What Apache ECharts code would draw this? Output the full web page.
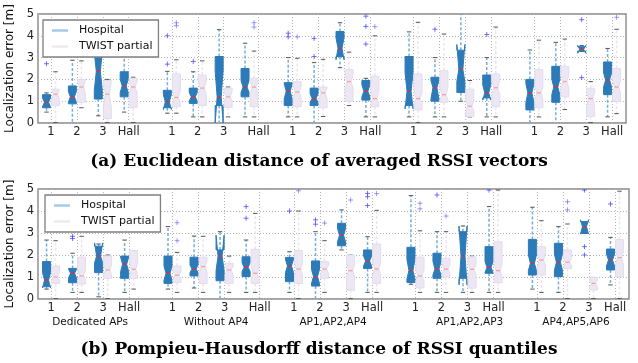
<!DOCTYPE html>
<html><head><meta charset="utf-8">
<script src="https://cdn.jsdelivr.net/npm/echarts@6/dist/echarts.min.js"></script>
<style>html,body{margin:0;padding:0;background:#fff}#c{width:638px;height:363px}</style>
</head><body><div id="c"></div>
<script>
// ---------------- data ----------------
const slotLabels = ['1', '2', '3', 'Hall'];
const groupNames = ['Dedicated APs', 'Without AP4', 'AP1,AP2,AP4', 'AP1,AP2,AP3', 'AP4,AP5,AP6'];
const titleA = '(a) Euclidean distance of averaged RSSI vectors';
const titleB = '(b) Pompieu-Hausdorff distance of RSSI quantiles';
const seriesNames = ['Hospital', 'TWIST partial'];
const yTicks = [0, 1, 2, 3, 4, 5];

// each box: [whiskerLow, q1, notchLow, median, notchHigh, q3, whiskerHigh]
const hospitalA = [
  [0.5, 0.7, 0.75, 0.95, 1.15, 1.3, 1.38], [-0.2, 0.88, 0.95, 1.2, 1.45, 1.7, 2.88], [0.33, 1.1, 1.5, 2.37, 3.25, 3.0, 4.0], [0.5, 1.2, 1.4, 1.7, 2.0, 2.35, 3.1],
  [0.45, 0.7, 0.62, 0.97, 1.3, 1.5, 2.37], [0.28, 0.9, 1.0, 1.2, 1.4, 1.6, 2.35], [-0.2, 0.8, 0.0, 1.2, 2.4, 3.05, 4.28], [0.28, 1.2, 1.4, 1.65, 1.95, 2.5, 3.66],
  [0.28, 0.8, 1.1, 1.46, 1.8, 1.85, 3.0], [-0.2, 0.8, 0.95, 1.12, 1.35, 1.6, 2.77], [2.54, 3.05, 2.9, 3.43, 3.9, 4.2, 4.6], [0.28, 1.05, 1.2, 1.46, 1.75, 1.95, 2.05],
  [0.28, 0.8, 0.65, 1.46, 2.3, 3.05, 4.18], [0.28, 1.0, 1.1, 1.62, 1.95, 2.1, 3.0], [1.0, 1.4, 1.9, 2.46, 3.6, 3.34, 5.5], [0.28, 1.15, 1.05, 1.38, 1.75, 2.2, 3.0],
  [-0.2, 0.6, 0.95, 1.38, 1.8, 2.0, 3.35], [-0.2, 0.95, 1.3, 1.65, 2.0, 2.6, 3.7], [3.28, 3.3, 3.2, 3.38, 3.56, 3.5, 3.55], [0.28, 1.3, 1.65, 1.97, 2.3, 2.8, 3.42]
];
const hospitalAFliers = [
  [2.72], [], [], [],
  [2.7, 4.0], [2.82], [], [],
  [3.95, 4.12], [3.05, 3.88], [], [3.62, 4.43, 4.9],
  [], [4.3], [], [4.06],
  [], [], [2.08, 4.74], []
];
const twistA = [
  [0.02, 0.8, 1.05, 1.32, 1.55, 1.55, 2.35], [0.7, 0.95, 1.35, 1.65, 1.95, 2.0, 2.85], [0.02, 0.2, 0.7, 1.32, 1.9, 1.95, 2.0], [0.02, 0.7, 1.35, 1.65, 1.95, 2.05, 2.1],
  [0.45, 0.75, 0.9, 1.17, 1.5, 2.25, 2.9], [0.28, 0.8, 1.3, 1.6, 1.9, 2.2, 2.85], [0.28, 0.72, 1.0, 1.2, 1.45, 1.6, 1.65], [0.28, 0.75, 1.35, 1.65, 1.95, 2.05, 3.3],
  [0.28, 0.75, 1.15, 1.42, 1.7, 1.9, 2.97], [0.3, 0.7, 1.1, 1.38, 1.6, 1.65, 2.92], [0.8, 1.0, 1.6, 1.9, 2.2, 2.45, 3.25], [0.28, 0.75, 0.9, 1.12, 1.5, 2.15, 4.0],
  [0.02, 0.6, 0.9, 1.12, 1.4, 2.25, 4.62], [0.28, 0.95, 1.05, 1.3, 1.6, 2.4, 4.08], [0.28, 0.3, 0.55, 0.77, 1.0, 1.55, 1.95], [0.28, 0.75, 1.3, 1.62, 1.95, 2.25, 4.4],
  [0.28, 0.7, 1.1, 1.38, 1.65, 2.45, 3.8], [0.62, 1.2, 1.6, 1.9, 2.2, 2.6, 3.85], [0.02, 0.3, 0.8, 1.12, 1.4, 1.6, 1.9], [0.43, 1.0, 1.35, 1.65, 1.95, 2.5, 4.3]
];
const twistAFliers = [
  [], [], [], [],
  [4.46, 4.6], [], [], [4.4, 4.6],
  [3.95], [], [], [4.42],
  [], [], [], [],
  [], [], [], [4.85]
];
const hospitalB = [
  [0.45, 0.56, 0.5, 0.86, 1.2, 1.7, 2.68], [0.3, 0.74, 0.95, 1.17, 1.35, 1.39, 2.08], [0.1, 1.2, 1.65, 1.95, 2.55, 2.4, 2.5], [0.3, 0.94, 1.25, 1.58, 1.9, 1.95, 2.68],
  [0.45, 0.71, 0.85, 1.17, 1.5, 1.95, 3.29], [0.5, 1.05, 1.2, 1.36, 1.55, 1.9, 2.86], [-0.2, 0.83, 1.3, 1.95, 2.9, 2.23, 3.06], [0.3, 1.02, 1.25, 1.44, 1.65, 1.92, 2.68],
  [0.3, 0.79, 1.2, 1.5, 1.8, 1.89, 2.15], [-0.2, 0.59, 0.7, 1.02, 1.35, 1.73, 3.06], [2.23, 2.42, 2.6, 2.9, 3.2, 3.44, 4.05], [0.3, 1.39, 1.5, 1.73, 1.95, 2.23, 2.83],
  [0.67, 0.75, 0.9, 1.3, 1.8, 2.35, 4.7], [0.3, 0.94, 1.1, 1.36, 1.7, 2.08, 3.06], [0.3, 0.94, 0.64, 1.95, 3.32, 3.06, 3.32], [0.3, 1.17, 1.2, 1.44, 1.7, 2.38, 4.2],
  [0.45, 1.09, 1.3, 1.62, 2.0, 2.71, 4.17], [0.3, 1.02, 1.3, 1.67, 2.05, 2.53, 3.29], [2.98, 2.98, 2.95, 3.29, 3.6, 3.52, 3.52], [0.64, 1.32, 1.5, 1.77, 2.05, 2.27, 2.8]
];
const hospitalBFliers = [
  [], [2.75, 2.85], [], [],
  [], [], [], [3.67, 4.2],
  [4.0], [3.4, 3.6], [], [4.25, 4.65, 4.8],
  [], [4.73], [], [4.95],
  [], [], [2.0, 2.38, 4.95], [4.32]
];
const twistB = [
  [0.02, 0.71, 0.85, 1.0, 1.2, 1.5, 2.65], [0.3, 0.68, 0.85, 1.05, 1.35, 1.9, 2.85], [0.02, 0.94, 1.1, 1.32, 1.55, 1.95, 2.0], [0.45, 0.94, 1.1, 1.35, 1.65, 2.2, 2.2],
  [0.3, 0.75, 0.9, 1.08, 1.3, 1.5, 2.12], [0.3, 0.7, 1.2, 1.47, 1.75, 1.9, 2.85], [0.3, 0.71, 1.1, 1.32, 1.5, 1.62, 1.95], [0.3, 0.71, 0.9, 1.17, 1.5, 2.26, 3.89],
  [0.02, 0.7, 1.1, 1.36, 1.65, 2.2, 4.0], [0.3, 0.94, 1.15, 1.36, 1.55, 1.7, 2.65], [0.02, 0.4, 1.0, 1.29, 1.6, 2.0, 2.0], [0.3, 0.71, 1.1, 1.36, 1.65, 2.5, 4.03],
  [0.3, 0.5, 0.8, 1.05, 1.3, 1.9, 3.1], [0.3, 1.0, 1.15, 1.36, 1.6, 1.85, 3.06], [0.3, 0.5, 1.1, 1.35, 1.6, 1.92, 1.95], [0.3, 0.74, 1.0, 1.29, 1.6, 2.6, 4.95],
  [0.3, 1.09, 1.5, 1.77, 2.05, 2.38, 3.56], [0.02, 1.39, 1.5, 1.67, 1.85, 2.23, 3.41], [0.02, 0.41, 0.55, 0.71, 0.85, 0.98, 0.98], [0.02, 1.02, 1.55, 1.88, 2.2, 2.71, 4.9]
];
const twistBFliers = [
  [], [], [], [],
  [2.65, 3.47], [], [], [],
  [4.92], [3.45], [4.5], [4.79],
  [4.1, 4.35], [3.77], [], [],
  [], [4.05, 4.42], [], []
];

// ---------------- layout ----------------
const X_MIN = 38, X_MAX = 626;
const FIRST = 51, GROUP_STEP = 120.85, SLOT_STEP = 25.9;
const BOX_OFF = 4.5, BOX_HW = 4.0, CAP_HW = 2.2;
function slotX(i) { return FIRST + Math.floor(i / 4) * GROUP_STEP + (i % 4) * SLOT_STEP; }
const tickX = [];
for (let i = 0; i < 20; i++) tickX.push(slotX(i) + (i === 7 ? 9 : 0));
const groupX = [0, 1, 2, 3, 4].map(g => (slotX(4 * g) + tickX[4 * g + 3]) / 2 + (g === 3 ? 15 : 0));

function nearestIdx(arr, v) { let b = 0; for (let i = 1; i < arr.length; i++) if (Math.abs(arr[i] - v) < Math.abs(arr[b] - v)) b = i; return b; }

const styles = [
  { fill: '#2c7bb8', stroke: '#2c7bb8', whisker: '#76aedb', median: '#e0303a', flier: 'rgba(70,70,255,0.75)', legend: '#a6cbe8' },
  { fill: '#ede7f3', stroke: '#e4dcec', whisker: '#ebe4f1', median: '#f3a0a6', flier: 'rgba(90,90,255,0.6)', legend: '#efe9f4' }
];

function makeRenderer(fliers, side, st) {
  return function (params, api) {
    const i = params.dataIndex;
    const xv = api.value(0);
    const b = [1, 2, 3, 4, 5, 6, 7].map(k => api.value(k));
    const wl = b[0], q1 = b[1], nl = b[2], md = b[3], nh = b[4], q3 = b[5], wh = b[6];
    const x = api.coord([xv, md])[0];
    const hw = api.coord([xv + BOX_HW, md])[0] - x;
    const cw = api.coord([xv + CAP_HW, md])[0] - x;
    const Y = v => api.coord([xv, v])[1];
    const ch = [];
    const line = (x1, y1, x2, y2, style) => ({ type: 'line', shape: { x1, y1, x2, y2 }, style });
    const ws = { stroke: st.whisker, lineWidth: 1.5, lineDash: [3, 2] };
    ch.push(line(x, Y(q1), x, Y(wl), ws));
    ch.push(line(x, Y(q3), x, Y(wh), ws));
    const cs = { stroke: '#555', lineWidth: 1 };
    ch.push(line(x - cw, Y(wl), x + cw, Y(wl), cs));
    ch.push(line(x - cw, Y(wh), x + cw, Y(wh), cs));
    ch.push({
      type: 'polygon',
      shape: { points: [[x - hw, Y(q1)], [x + hw, Y(q1)], [x + hw, Y(nl)], [x + hw / 2, Y(md)], [x + hw, Y(nh)], [x + hw, Y(q3)], [x - hw, Y(q3)], [x - hw, Y(nh)], [x - hw / 2, Y(md)], [x - hw, Y(nl)]] },
      style: { fill: st.fill, stroke: st.stroke, lineWidth: 1 }
    });
    ch.push(line(x - hw / 2, Y(md), x + hw / 2, Y(md), { stroke: st.median, lineWidth: 1.3 }));
    (fliers[i] || []).forEach(f => {
      const y = Y(f);
      ch.push(line(x - 2.5, y, x + 2.5, y, { stroke: st.flier, lineWidth: 1 }));
      ch.push(line(x, y - 2.5, x, y + 2.5, { stroke: st.flier, lineWidth: 1 }));
    });
    return { type: 'group', children: ch };
  };
}

function boxSeries(name, boxes, fliers, side, axisIdx) {
  const st = styles[side < 0 ? 0 : 1];
  return {
    type: 'custom', name, xAxisIndex: axisIdx, yAxisIndex: axisIdx, clip: true, silent: true,
    itemStyle: { color: st.legend },
    data: boxes.map((b, i) => [slotX(i) + side * BOX_OFF].concat(b)),
    encode: { x: 0, y: 4 },
    renderItem: makeRenderer(fliers, side, st)
  };
}

const font = 'DejaVu Sans';
function xAxisCfg(gi) {
  return {
    type: 'value', gridIndex: gi, min: X_MIN, max: X_MAX,
    axisLine: { show: false },
    axisTick: { show: false, customValues: tickX },
    axisLabel: { customValues: tickX, margin: 3, fontSize: 11.5, fontFamily: font, color: '#222',
      formatter: v => slotLabels[nearestIdx(tickX, v) % 4] },
    splitLine: { show: true, lineStyle: { color: '#b5b5b5', type: [1, 2], width: 1 } }
  };
}
function yAxisCfg(gi) {
  return {
    type: 'value', gridIndex: gi, min: 0, max: 5, interval: 1,
    axisLine: { show: false }, axisTick: { show: false },
    axisLabel: { margin: 4, fontSize: 11.5, fontFamily: font, color: '#222', formatter: v => String(yTicks[nearestIdx(yTicks, v)]) },
    splitLine: { show: true, lineStyle: { color: '#b5b5b5', type: [1, 2], width: 1 } },
    name: 'Localization error [m]', nameLocation: 'middle', nameGap: 17,
    nameTextStyle: { fontSize: 12, fontFamily: font, color: '#111' }
  };
}
function legendCfg(left, top) {
  return {
    left, top, orient: 'vertical', selectedMode: false,
    data: [{ name: seriesNames[0], icon: 'rect', itemStyle: { color: styles[0].legend } },
           { name: seriesNames[1], icon: 'rect', itemStyle: { color: styles[1].legend } }],
    itemWidth: 16, itemHeight: 2.5, itemGap: 3,
    backgroundColor: '#fff', borderColor: '#808080', borderWidth: 1.3, borderRadius: 0,
    padding: [4, 6, 4, 9],
    textStyle: { fontSize: 11, fontFamily: font, color: '#111', padding: [0, 0, 0, 6], lineHeight: 13 }
  };
}

const chart = echarts.init(document.getElementById('c'), null, { renderer: 'canvas' });
chart.setOption({
  animation: false,
  backgroundColor: '#fff',
  title: [
    { text: titleA, left: 'center', top: 148, textStyle: { fontFamily: 'DejaVu Serif', fontWeight: 'bold', fontSize: 17, color: '#000' } },
    { text: titleB, left: 'center', top: 336, textStyle: { fontFamily: 'DejaVu Serif', fontWeight: 'bold', fontSize: 17, color: '#000' } }
  ],
  grid: [
    { left: 38, top: 14, width: 588, height: 109, show: true, borderColor: '#888', borderWidth: 1.4, outerBoundsMode: 'none', containLabel: false },
    { left: 38, top: 189, width: 591, height: 110, show: true, borderColor: '#888', borderWidth: 1.4, outerBoundsMode: 'none', containLabel: false }
  ],
  xAxis: [
    xAxisCfg(0), xAxisCfg(1),
    { type: 'value', gridIndex: 1, min: X_MIN, max: X_MAX, position: 'bottom',
      axisLine: { show: false }, axisTick: { show: false, customValues: groupX }, splitLine: { show: false },
      axisLabel: { customValues: groupX, margin: 18, fontSize: 10.5, fontFamily: font, color: '#111',
        formatter: v => groupNames[nearestIdx(groupX, v)] } }
  ],
  yAxis: [yAxisCfg(0), yAxisCfg(1)],
  legend: [legendCfg(43, 20), legendCfg(45, 195)],
  series: [
    boxSeries(seriesNames[0], hospitalA, hospitalAFliers, -1, 0),
    boxSeries(seriesNames[1], twistA, twistAFliers, 1, 0),
    boxSeries(seriesNames[0], hospitalB, hospitalBFliers, -1, 1),
    boxSeries(seriesNames[1], twistB, twistBFliers, 1, 1)
  ]
});
</script></body></html>
